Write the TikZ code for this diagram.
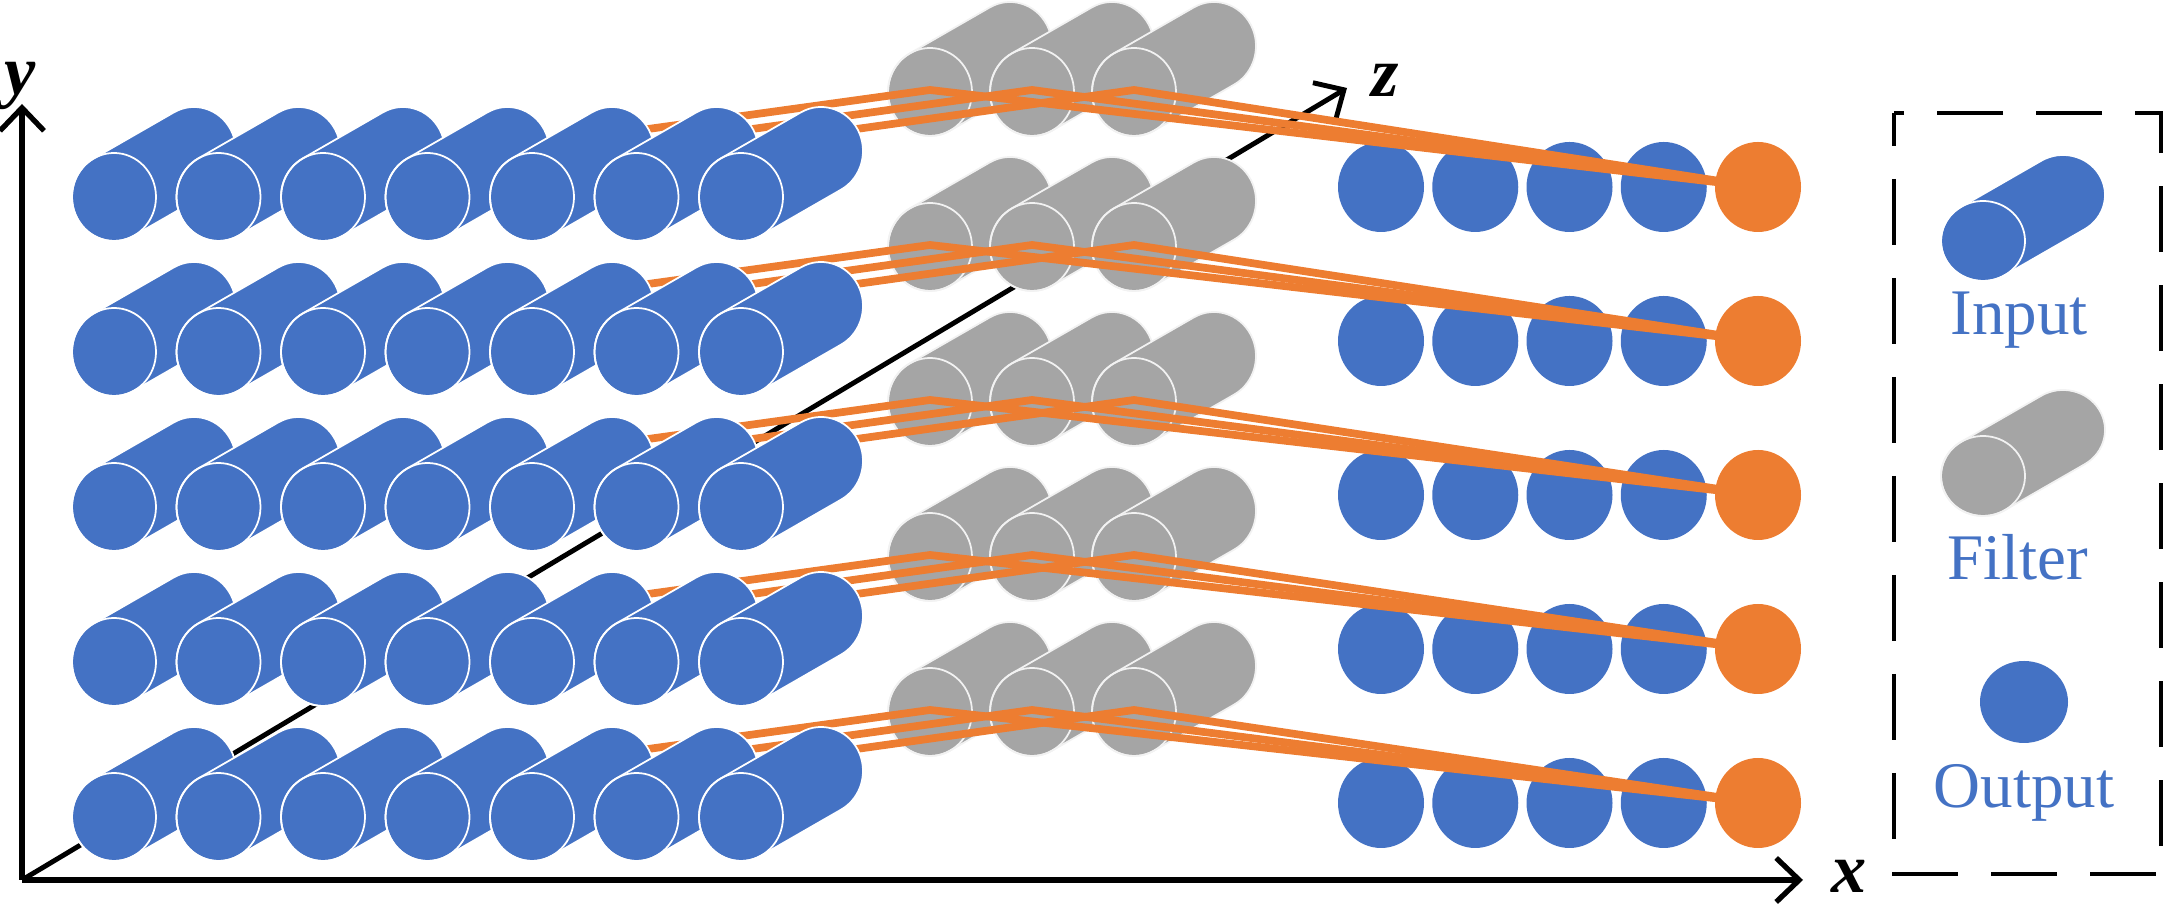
\documentclass[tikz,border=0pt]{standalone}
\usepackage{fontspec}
\setmainfont{Liberation Serif}
\usetikzlibrary{arrows.meta,positioning}
\definecolor{inblue}{HTML}{4472C4}
\definecolor{filgray}{HTML}{A5A5A5}
\definecolor{outorange}{HTML}{ED7D31}

\begin{document}
\begin{tikzpicture}[x=0.1mm,y=-0.1mm,
  axis/.style={line width=1.5pt,-{Straight Barb[length=2.3mm,width=4.4mm]}},
  axislabel/.style={inner sep=0pt,font=\fontsize{20}{20}\selectfont\bfseries\itshape},
  inputcyl/.style={fill=inblue,draw=white,line width=.5pt},
  filtercyl/.style={fill=filgray,draw=white!85!filgray,line width=.5pt},
  link/.style={draw=outorange,line width=2.2pt,line join=miter},
  keybox/.style={line width=1.2pt,dash pattern=on 6.6mm off 3.3mm,dash phase=3.3mm},
  legendtext/.style={text=inblue,anchor=base,inner sep=0pt,font=\fontsize{18.5}{18.5}\selectfont},
  pics/barrel/.style={code={
    \pgfmathsetmacro\tfr{atan(#1*80/1932)}
    \pgfmathsetmacro\tbk{\tfr-180}
    \path[pic actions] (\tbk:42 and #1) -- ++(80,-46)
      arc[start angle=\tbk,end angle=\tfr,x radius=42,y radius=#1]
      -- ++(-80,46)
      arc[start angle=\tfr,end angle=\tfr+180,x radius=42,y radius=#1] -- cycle;
    \path[pic actions,fill=none] (0,0) ellipse[x radius=42,y radius=#1];
  }}]
\useasboundingbox (0,0) rectangle (2165,904);
\coordinate (o) at (22,880);
\coordinate (ytip) at (22,104);
\coordinate (xtip) at (1803,880);
\coordinate (ztip) at (1347,88);
\draw[axis] (o)--(ytip);
\draw[axis] (o)--(xtip);
\draw[axis,line width=1.4pt] (o)--(ztip);
\node[axislabel] (ylab) at (20,86) {y};
\node[axislabel] (zlab) at (1385,80) {z};
\node[axislabel] (xlab) at (1849,876) {x};
\foreach \r in {0,...,4}{
  \foreach \k in {0,1,2}
    \pic[filtercyl] at (930+102*\k,92+155*\r) {barrel=44};
  \foreach \n in {0,...,3}
    \fill[inblue] (1381+94.25*\n,187+154*\r) ellipse[x radius=43,y radius=45];
  \coordinate (out\r) at (1758,187+154*\r);
  \fill[outorange] (out\r) ellipse[x radius=43,y radius=45];
  \foreach \k in {0,1,2}{
    \coordinate (src\r\k) at (612+104.5*\k,134+155*\r);
    \coordinate (ker\r\k) at (930+102*\k,90+155*\r);
    \draw[link] (src\r\k)--(ker\r\k)--(out\r);
  }
  \foreach \i in {0,...,6}
    \pic[inputcyl] at (114+104.5*\i,197+155*\r) {barrel=44};
}
\coordinate (keynw) at (1894,113);
\coordinate (keyse) at (2161,874);
\draw[keybox] (keynw) rectangle (keyse);
\pic[inputcyl] at (1983,241) {barrel=40};
\pic[filtercyl] at (1983,476) {barrel=40};
\fill[inblue] (2024,702) ellipse[x radius=44,y radius=41];
\node[legendtext] (keyin) at (2019,335) {Input};
\node[legendtext] (keyfil) at (2018,580) {Filter};
\node[legendtext] (keyout) at (2024,808) {Output};
\end{tikzpicture}
\end{document}
